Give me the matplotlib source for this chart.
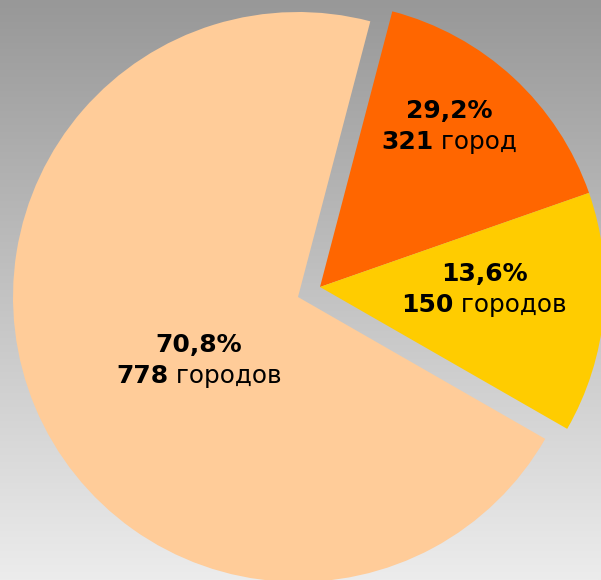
import numpy as np
import matplotlib.pyplot as plt
from matplotlib.colors import LinearSegmentedColormap

# данные
pct_labels = ['29,2%', '13,6%', '70,8%']
city_counts = [321, 150, 778]
city_words = ['город', 'городов', 'городов']
# slices drawn: (321 - 150), 150, 778
slice_values = [171, 150, 778]
colors = ['#FF6600', '#FFCC00', '#FFCC99']

fig = plt.figure(figsize=(6.01, 5.80), dpi=100)
ax = fig.add_axes([0, 0, 1, 1])

# background gradient
bg = LinearSegmentedColormap.from_list('bg', ['#989898', '#ececec'])
grad = np.linspace(0, 1, 256).reshape(-1, 1)
ax.imshow(grad, cmap=bg, extent=(0, 601, 0, 580), aspect='auto', origin='upper', zorder=0)

center = (298, 283)
wedges, _ = ax.pie(slice_values, colors=colors, startangle=75.3, counterclock=False,
                   center=center, radius=285, wedgeprops=dict(linewidth=0))
for w in wedges:
    w.set_zorder(2)
# pull out the 321 group together
for w in wedges[:2]:
    w.set_center((center[0] + 22, center[1] + 10))

ax.set_xlim(0, 601)
ax.set_ylim(0, 580)
ax.set_aspect('auto')
ax.axis('off')

# label anchors (x, baseline of first line) in pixel-like coords
label_pos = [(449, 580 - 118), (484, 580 - 281), (199, 580 - 352)]
fs_bold = 18
fs_reg = 17.8
renderer = fig.canvas.get_renderer()
for (x, y), pct, num, word in zip(label_pos, pct_labels, city_counts, city_words):
    ax.text(x, y, pct, fontsize=fs_bold, fontweight='bold', ha='center', va='baseline', zorder=3)
    y2 = y - 31
    t1 = ax.text(0, y2, str(num), fontsize=fs_bold, fontweight='bold', ha='left', va='baseline', zorder=3)
    t2 = ax.text(0, y2, ' ' + word, fontsize=fs_reg, ha='left', va='baseline', zorder=3)
    w1 = t1.get_window_extent(renderer).width
    w2 = t2.get_window_extent(renderer).width
    left = x - (w1 + w2) / 2
    t1.set_x(left)
    t2.set_x(left + w1)

plt.savefig('out.png', dpi=100)
